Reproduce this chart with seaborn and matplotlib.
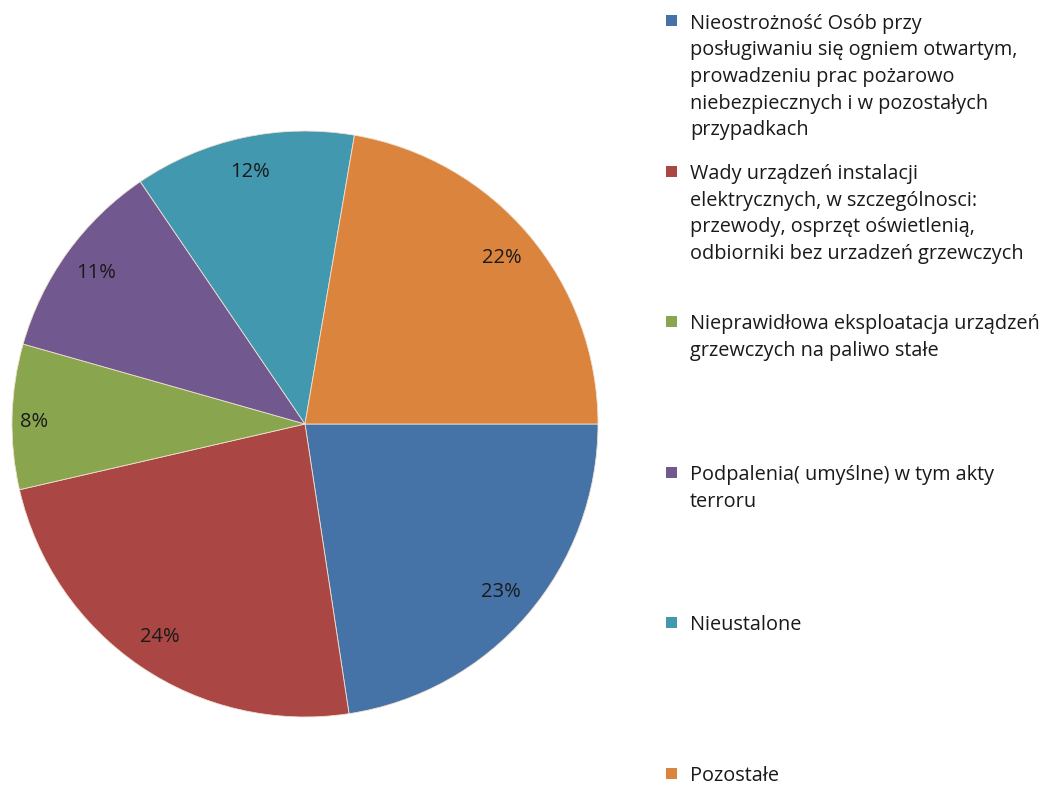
import matplotlib
matplotlib.use("Agg")
import matplotlib.pyplot as plt
import seaborn as sns
from matplotlib.patches import Rectangle

sns.set_theme(style="white")
plt.rcParams['font.family'] = ['Open Sans', 'DejaVu Sans']

labels = [
    "Nieostrożność Osób przy\nposługiwaniu się ogniem otwartym,\nprowadzeniu prac pożarowo\nniebezpiecznych i w pozostałych\nprzypadkach",
    "Wady urządzeń instalacji\nelektrycznych, w szczególnosci:\nprzewody, osprzęt oświetlenią,\nodbiorniki bez urzadzeń grzewczych",
    "Nieprawidłowa eksploatacja urządzeń\ngrzewczych na paliwo stałe",
    "Podpalenia( umyślne) w tym akty\nterroru",
    "Nieustalone",
    "Pozostałe",
]
values = [22.6, 23.8, 8.0, 11.1, 12.2, 22.3]
colors = ["#4572A7", "#AA4643", "#89A54E", "#71588F", "#4198AF", "#DB843D"]

W, H = 1041, 787
fig = plt.figure(figsize=(W / 100, H / 100), dpi=100)
cx, cy, r = 305, 424, 293
ax = fig.add_axes([(cx - r) / W, (H - cy - r) / H, 2 * r / W, 2 * r / H])

wedges, texts, autotexts = ax.pie(
    values, colors=colors, startangle=0, counterclock=False,
    autopct="%.0f%%", pctdistance=0.88,
    wedgeprops=dict(edgecolor="#f0e0d0", linewidth=0.6),
    textprops=dict(fontsize=14.5, color="#1a1a1a"),
)
autotexts[2].set_position((-0.925, 0.006))
ax.set_aspect("equal")
ax.set_xlim(-1, 1)
ax.set_ylim(-1, 1)
ax.axis("off")

# legend (manual, evenly spaced entries)
y0, step, lh = 21, 150.5, 26.7
for i, (lab, col) in enumerate(zip(labels, colors)):
    ey = y0 + i * step
    fig.patches.append(Rectangle((666 / W, 1 - (ey + 5) / H), 11 / W, 11 / H,
                                 transform=fig.transFigure, facecolor=col,
                                 edgecolor="none"))
    for j, line in enumerate(lab.split("\n")):
        fig.text(690 / W, 1 - (ey + j * lh) / H, line, fontsize=14.3,
                 color="#1a1a1a", ha="left", va="center_baseline")

fig.savefig("out.png", dpi=100)
